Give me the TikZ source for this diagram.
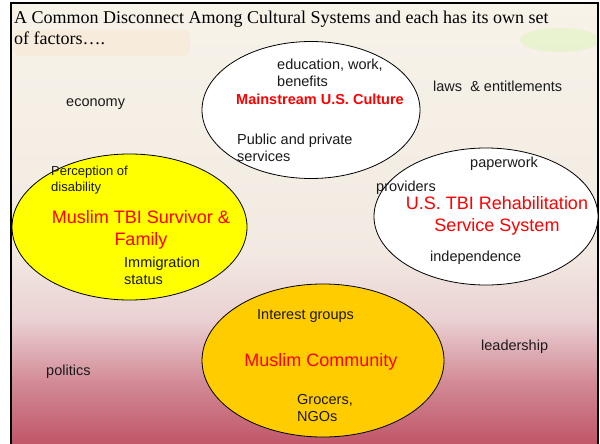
\documentclass[tikz,border=0pt]{standalone}
\usepackage{fontspec}
\setmainfont{Liberation Serif}
\setsansfont{Liberation Sans}
\usetikzlibrary{shapes.geometric}

\definecolor{bgcream}{RGB}{247,243,233}
\definecolor{bgpale}{RGB}{242,234,226}
\definecolor{bgpink}{RGB}{234,208,210}
\definecolor{bgrose}{RGB}{211,140,152}
\definecolor{bgred}{RGB}{192,86,104}
\definecolor{bubbleyellow}{RGB}{255,255,0}
\definecolor{bubbleorange}{RGB}{255,204,0}
\definecolor{factorgray}{RGB}{26,26,26}

\begin{document}
\begin{tikzpicture}[x=1pt, y=-1pt,
    bubble/.style={draw, ellipse, line width=0.8pt, inner sep=0pt},
    factor/.style={font=\sffamily\fontsize{14.5}{17}\selectfont, text=factorgray, inner sep=0pt, align=left, anchor=west},
    system/.style={font=\sffamily\fontsize{18}{21.5}\selectfont, text=red, inner sep=0pt, align=center}]
    \useasboundingbox (0,0) rectangle (600,444);

    % slide background
    \shade[top color=bgcream, bottom color=bgpale] (11,3) rectangle (598,251);
    \shade[top color=bgpale, bottom color=bgpink] (11,250) rectangle (598,321);
    \shade[top color=bgpink, bottom color=bgrose] (11,320) rectangle (598,381);
    \shade[top color=bgrose, bottom color=bgred] (11,380) rectangle (598,444);
    \fill[orange!40, opacity=0.15, rounded corners=6pt] (14,30) rectangle (190,56);
    \fill[green!50!yellow, opacity=0.1] (560,40) ellipse (40pt and 12pt);
    \draw[line width=2pt] (11,445) -- (11,3) -- (598,3) -- (598,445);

    \node[font=\fontsize{18}{21}\selectfont, inner sep=0pt, align=left, anchor=west] (title) at (14,28)
        {A Common Disconnect Among Cultural Systems and each has its own set\\of factors….};

    % the four systems
    \node[bubble, fill=white, minimum width=218pt, minimum height=137pt] (mainstream) at (311,110) {};
    \node[bubble, fill=bubbleyellow, minimum width=235pt, minimum height=146pt] (survivor) at (129.5,227) {};
    \node[bubble, fill=white, minimum width=224pt, minimum height=137pt] (rehab) at (486,216.5) {};
    \node[bubble, fill=bubbleorange, minimum width=242pt, minimum height=153pt] (community) at (323,360.5) {};

    \node[system, font=\sffamily\bfseries\fontsize{14.5}{17}\selectfont] (mainstreamname) at (320,99) {Mainstream U.S. Culture};
    \node[system] (survivorname) at (141,230) {Muslim TBI Survivor \&\\Family};
    \node[system, font=\sffamily\fontsize{18}{22}\selectfont] (rehabname) at (497,216) {U.S. TBI Rehabilitation\\Service System};
    \node[system] (communityname) at (321,362) {Muslim Community};

    % factors
    \node[factor] (economy) at (66,104) {economy};
    \node[factor] (laws) at (433,86) {laws \ \& entitlements};
    \node[factor] (eduwork) at (277,73) {education, work,\\benefits};
    \node[factor] (services) at (237,148) {Public and private\\services};
    \node[factor, font=\sffamily\fontsize{13}{16}\selectfont] (perception) at (51,180) {Perception of\\disability};
    \node[factor] (immigration) at (124,271) {Immigration\\status};
    \node[factor] (paperwork) at (470,164) {paperwork};
    \node[factor] (providers) at (376,188) {providers};
    \node[factor] (independence) at (430,258) {independence};
    \node[factor] (interest) at (257,316) {Interest groups};
    \node[factor] (leadership) at (481,347) {leadership};
    \node[factor] (politics) at (46,372) {politics};
    \node[factor] (grocers) at (297,408) {Grocers,\\NGOs};
\end{tikzpicture}
\end{document}
